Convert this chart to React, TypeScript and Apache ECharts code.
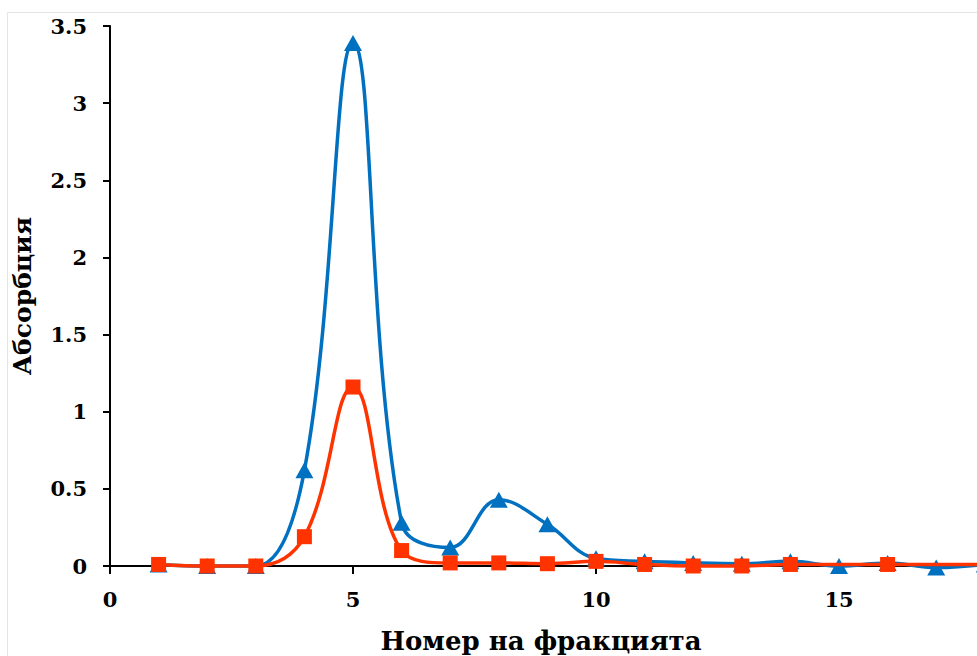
import React, { useEffect, useRef } from "react";
import * as echarts from "echarts";

const blueX = [1, 2, 3, 4, 5, 6, 7, 8, 9, 10, 11, 12, 13, 14, 15, 16, 17, 18];
const blueY = [0.01, 0.0, 0.0, 0.62, 3.39, 0.28, 0.12, 0.43, 0.27, 0.05, 0.03, 0.02, 0.015, 0.03, 0.0, 0.02, -0.01, 0.01];
const redX = [1, 2, 3, 4, 5, 6, 7, 8, 9, 10, 11, 12, 13, 14, 16, 18];
const redY = [0.01, 0.0, 0.0, 0.19, 1.16, 0.1, 0.02, 0.02, 0.015, 0.03, 0.01, 0.0, 0.0, 0.01, 0.01, 0.01];
const xTicks = [0, 5, 10, 15];
const yTicks = [0, 0.5, 1, 1.5, 2, 2.5, 3, 3.5];

const FONT = "DejaVu Serif";

export default function App() {
  const ref = useRef<HTMLDivElement>(null);
  useEffect(() => {
    document.body.style.margin = "0";
    document.body.style.overflow = "hidden";
    const chart = echarts.init(ref.current!, undefined, { renderer: "svg" });
    chart.setOption({
      animation: false,
      backgroundColor: "#ffffff",
      grid: { left: 110, top: 26, bottom: 90, right: 18, containLabel: false },
      xAxis: {
        type: "value",
        min: 0,
        max: 20,
        interval: 5,
        splitLine: { show: false },
        axisLine: { show: true, onZero: false, lineStyle: { color: "#000", width: 2 } },
        axisTick: { show: true, inside: false, length: 8, lineStyle: { color: "#000", width: 2 } },
        axisLabel: {
          color: "#000",
          fontFamily: FONT,
          fontWeight: "bold",
          fontSize: 21,
          margin: 23,
          formatter: (v: number) => (xTicks.includes(v) ? String(v) : ""),
        },
      },
      yAxis: {
        type: "value",
        min: 0,
        max: 3.5,
        interval: 0.5,
        splitLine: { show: false },
        axisLine: { show: true, lineStyle: { color: "#000", width: 2 } },
        axisTick: { show: true, inside: false, length: 7, lineStyle: { color: "#000", width: 2 } },
        axisLabel: {
          color: "#000",
          fontFamily: FONT,
          fontWeight: "bold",
          fontSize: 21,
          margin: 23,
          formatter: (v: number) => (yTicks.includes(v) ? String(v) : ""),
        },
        name: "Абсорбция",
        nameLocation: "middle",
        nameGap: 75,
        nameRotate: 90,
        nameTextStyle: { color: "#000", fontFamily: FONT, fontWeight: "bold", fontSize: 25 },
      },
      graphic: [
        {
          type: "rect",
          shape: { x: 7.5, y: 12.5, width: 1200, height: 800 },
          style: { fill: "none", stroke: "#e4e4e4", lineWidth: 1 },
          silent: true,
          z: -10,
        },
        {
          type: "text",
          x: 541,
          y: 641,
          style: {
            text: "Номер на фракцията",
            fill: "#000",
            fontFamily: FONT,
            fontWeight: "bold",
            fontSize: 26,
            align: "center",
            verticalAlign: "middle",
          },
        },
      ],
      series: [
        {
          type: "line",
          name: "blue",
          data: blueX.map((x, i) => [x, blueY[i]]),
          smooth: 0.4,
          clip: false,
          symbol: "triangle",
          symbolSize: [18, 16],
          lineStyle: { color: "#0070C0", width: 3.5 },
          itemStyle: { color: "#0070C0" },
          z: 2,
        },
        {
          type: "line",
          name: "red",
          data: redX.map((x, i) => [x, redY[i]]),
          smooth: 0.4,
          clip: false,
          symbol: "rect",
          symbolSize: 15,
          lineStyle: { color: "#FF3300", width: 3.5 },
          itemStyle: { color: "#FF3300" },
          z: 3,
        },
      ],
    });
    return () => chart.dispose();
  }, []);
  return <div ref={ref} style={{ position: "absolute", left: 0, top: 0, width: 1100, height: 656 }} />;
}
